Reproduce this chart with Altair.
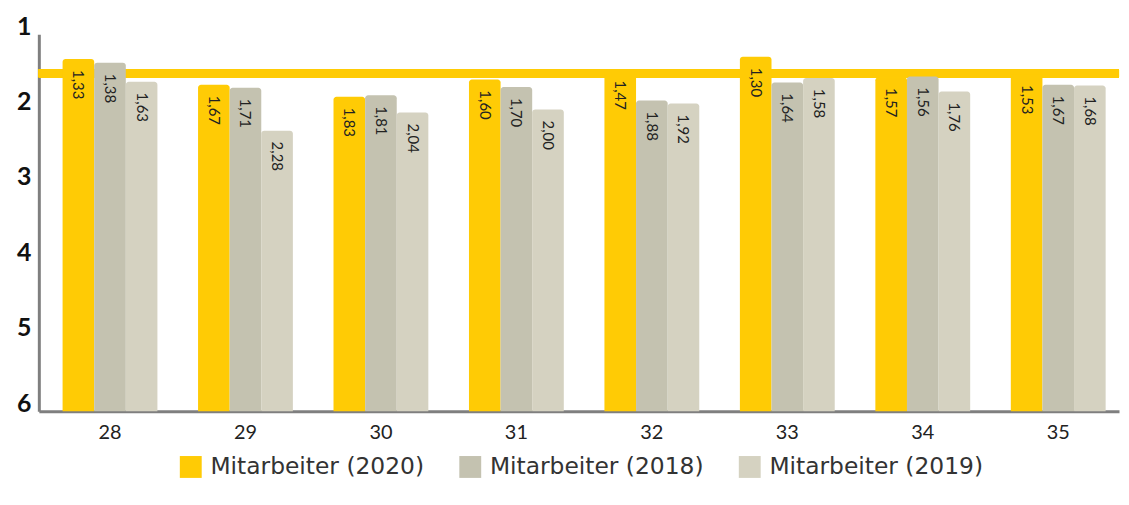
import altair as alt
import pandas as pd

items = ["28", "29", "30", "31", "32", "33", "34", "35"]
series = ["Mitarbeiter (2020)", "Mitarbeiter (2018)", "Mitarbeiter (2019)"]
v2020 = [1.33, 1.67, 1.83, 1.60, 1.47, 1.30, 1.57, 1.53]
v2018 = [1.38, 1.71, 1.81, 1.70, 1.88, 1.64, 1.56, 1.67]
v2019 = [1.63, 2.28, 2.04, 2.00, 1.92, 1.58, 1.76, 1.68]
projekt_mittelwert = 1.52
y_ticks = [1, 2, 3, 4, 5, 6]
title_text = "Mittelwerte der Items 28 – 35 gemessen am Projektmittelwert 1,52"
colors = ["#FFCB05", "#C4C2B0", "#D5D2C1"]

rows = []
for s, vals in zip(series, [v2020, v2018, v2019]):
    for it, v in zip(items, vals):
        rows.append({"item": it, "serie": s, "wert": v})
df = pd.DataFrame(rows)

FONT = "Lato"

x = alt.X(
    "item:N",
    sort=items,
    scale=alt.Scale(paddingInner=0.3, paddingOuter=0.137, align=0.64),
    axis=alt.Axis(
        title=None, labelAngle=0, ticks=False, domainColor="#7f7f7f",
        domainWidth=3, labelFont=FONT, labelFontSize=20, labelColor="#222222",
        labelPadding=12,
    ),
)
xoff = alt.XOffset("serie:N", sort=series,
                   scale=alt.Scale(domain=series, paddingInner=0, paddingOuter=0))
y = alt.Y(
    "wert:Q",
    scale=alt.Scale(domain=[1, 6], reverse=True, nice=False, zero=False),
    axis=alt.Axis(
        values=y_ticks, format="d", title=None, ticks=False, grid=False,
        domainColor="#7f7f7f", domainWidth=3, labelFont=FONT,
        labelFontSize=25, labelFontWeight="bold", labelColor="#111111",
        labelOffset=-8, labelPadding=8,
    ),
)

base = alt.Chart(df).transform_calculate(
    lab="replace(format(datum.wert, '.2f'), '.', ',')"
)

rule = alt.Chart(df).mark_rule(color="#FFCB05", strokeWidth=8).encode(
    y=alt.datum(projekt_mittelwert)
)

bars = base.mark_bar(cornerRadiusTopLeft=3, cornerRadiusTopRight=3).encode(
    x=x,
    xOffset=xoff,
    y=y,
    y2=alt.datum(6),
    color=alt.Color(
        "serie:N",
        sort=series,
        scale=alt.Scale(domain=series, range=colors),
        legend=alt.Legend(
            title=None, orient="none", legendX=141, legendY=423,
            direction="horizontal", symbolType="square", symbolSize=484,
            symbolStrokeWidth=0, symbolOpacity=1, labelFont="DejaVu Sans",
            labelFontSize=23.5, labelColor="#333333", columnPadding=34,
            labelOffset=8, labelLimit=400,
        ),
    ),
)

labels = base.mark_text(
    angle=90, align="left", baseline="middle", dx=11, font=FONT,
    fontSize=15, color="#222222",
).encode(x=x, xOffset=xoff, y=y, text="lab:N")

chart = (
    alt.layer(rule, bars, labels)
    .properties(
        width=1086,
        height=379,
        autosize=alt.AutoSizeParams(type="none"),
        padding={"left": 31, "top": 25, "right": 2, "bottom": 85},
        background="white",
        title=alt.TitleParams(
            title_text, font=FONT, fontSize=20, fontWeight="bold",
            color="#111111", anchor="middle", offset=21, dx=16,
        ),
    )
    .configure_view(stroke=None)
)

chart.save("out.html", embed_options={"renderer": "svg", "actions": False})
